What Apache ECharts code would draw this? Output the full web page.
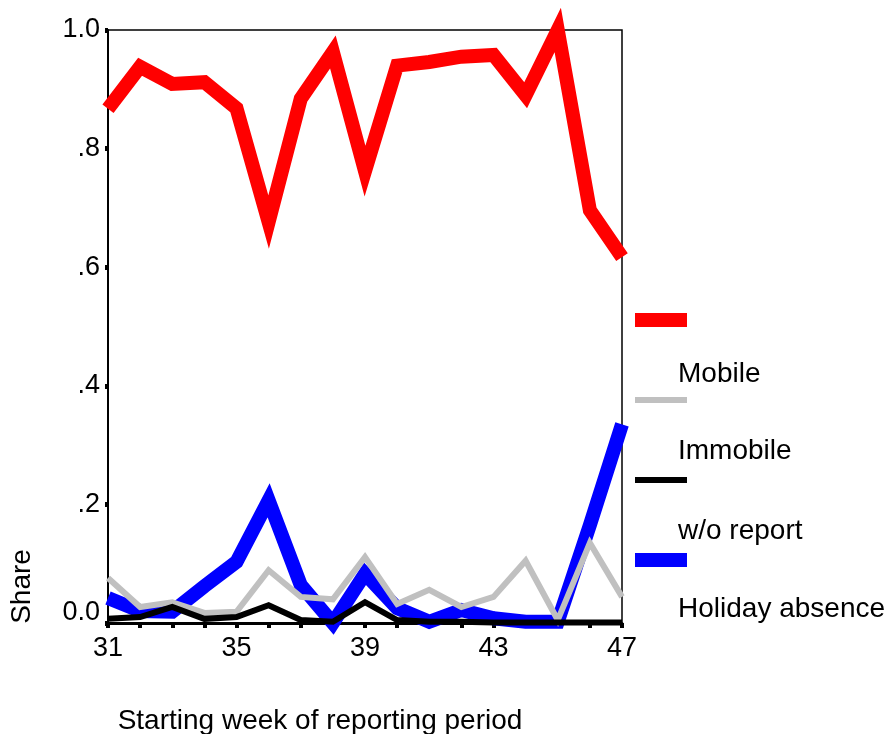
<!DOCTYPE html>
<html>
<head>
<meta charset="utf-8">
<script src="https://cdn.jsdelivr.net/npm/echarts@6/dist/echarts.min.js"></script>
<style>
  html, body { margin: 0; padding: 0; background: #fff; }
  #chart { width: 893px; height: 734px; }
</style>
</head>
<body>
<div id="chart"></div>
<script>
// Weekly shares by reporting status
const weeks = ['31','32','33','34','35','36','37','38','39','40','41','42','43','44','45','46','47'];
const mobile   = [0.867, 0.938, 0.909, 0.912, 0.868, 0.676, 0.884, 0.963, 0.762, 0.940, 0.946, 0.955, 0.958, 0.890, 1.000, 0.696, 0.617];
const immobile = [0.076, 0.027, 0.035, 0.017, 0.019, 0.089, 0.044, 0.040, 0.111, 0.032, 0.056, 0.027, 0.044, 0.105, 0.005, 0.135, 0.044];
const noReport = [0.007, 0.010, 0.027, 0.007, 0.010, 0.030, 0.005, 0.002, 0.035, 0.005, 0.002, 0.002, 0.001, 0.001, 0.001, 0.001, 0.001];
const holiday  = [0.042, 0.020, 0.019, 0.062, 0.103, 0.207, 0.064, 0.000, 0.083, 0.025, 0.002, 0.022, 0.008, 0.002, 0.002, 0.165, 0.335];
const seriesNames = ['Mobile', 'Immobile', 'w/o report', 'Holiday absence'];
const xLabelWeeks = ['31', '35', '39', '43', '47'];

const FONT = '"Liberation Sans", Arial, sans-serif';
const FS = 28;
const TICK_FS = 27;

// legend swatch sizes (thick lines get thick swatches)
const swatchHeights = [14, 6, 6, 14];
const swatchCenters = [320, 400, 480, 560];
const labelTops = [360, 437, 517, 595];

const chart = echarts.init(document.getElementById('chart'), null, { renderer: 'canvas' });

function lineSeries(name, data, color, width, z) {
  return {
    name: name,
    type: 'line',
    data: data,
    symbol: 'none',
    showSymbol: false,
    clip: false,
    z: z,
    animation: false,
    lineStyle: { color: color, width: width, join: 'miter', miterLimit: 20, cap: 'butt' },
    itemStyle: { color: color }
  };
}

chart.setOption({
  backgroundColor: '#ffffff',
  animation: false,
  textStyle: { fontFamily: FONT },
  grid: {
    left: 108, right: 271, top: 30, bottom: 111,
    outerBoundsMode: 'none',
    containLabel: false,
    show: true, borderColor: '#000', borderWidth: 1.5, backgroundColor: 'transparent'
  },
  legend: seriesNames.map(function (n, i) {
    return {
      orient: 'vertical',
      left: 635,
      top: swatchCenters[i] - swatchHeights[i] / 2,
      padding: 0,
      icon: 'rect',
      itemWidth: 52,
      itemHeight: swatchHeights[i],
      data: [n],
      formatter: function () { return ''; },
      textStyle: { fontSize: 4 },
      selectedMode: false
    };
  }),
  graphic: seriesNames.map(function (n, i) {
    return {
      type: 'text', left: 678, top: labelTops[i],
      style: { text: n, font: FS + 'px ' + FONT, fill: '#000' }
    };
  }),
  xAxis: {
    type: 'category',
    data: weeks,
    boundaryGap: false,
    name: 'Starting week of reporting period',
    nameLocation: 'middle',
    nameGap: 84,
    nameTextStyle: { fontSize: FS, color: '#000', padding: [0, 90, 0, 0] },
    axisLine: { lineStyle: { color: '#000', width: 3 } },
    axisTick: { show: true, interval: 0, length: 5, lineStyle: { color: '#000', width: 4 } },
    axisLabel: {
      interval: 0, margin: 12, fontSize: TICK_FS, color: '#000',
      formatter: function (v) { return xLabelWeeks.indexOf(v) >= 0 ? v : ''; }
    },
    splitLine: { show: false }
  },
  yAxis: {
    type: 'value',
    min: 0, max: 1, interval: 0.2,
    name: 'Share',
    nameLocation: 'middle',
    nameRotate: 90,
    nameGap: 72,
    nameTextStyle: { fontSize: FS, color: '#000', padding: [0, 520, 0, 0] },
    axisLine: { show: true, lineStyle: { color: '#000', width: 2 } },
    axisTick: { show: true, length: 3, lineStyle: { color: '#000', width: 5 } },
    axisLabel: {
      margin: 8, fontSize: TICK_FS, color: '#000',
      formatter: function (v) {
        if (v === 0) return '{z|0.0}';
        if (Math.abs(v - 1) < 1e-9) return '1.0';
        return '.' + Math.round(v * 10);
      },
      rich: { z: { fontSize: TICK_FS, color: '#000', fontFamily: FONT, padding: [0, 0, 20, 0] } }
    },
    splitLine: { show: false }
  },
  series: [
    lineSeries('Holiday absence', holiday, '#0000ff', 14, 2),
    lineSeries('Immobile', immobile, '#c0c0c0', 6, 3),
    lineSeries('w/o report', noReport, '#000000', 6, 4),
    lineSeries('Mobile', mobile, '#ff0000', 14, 5)
  ]
});
</script>
</body>
</html>
